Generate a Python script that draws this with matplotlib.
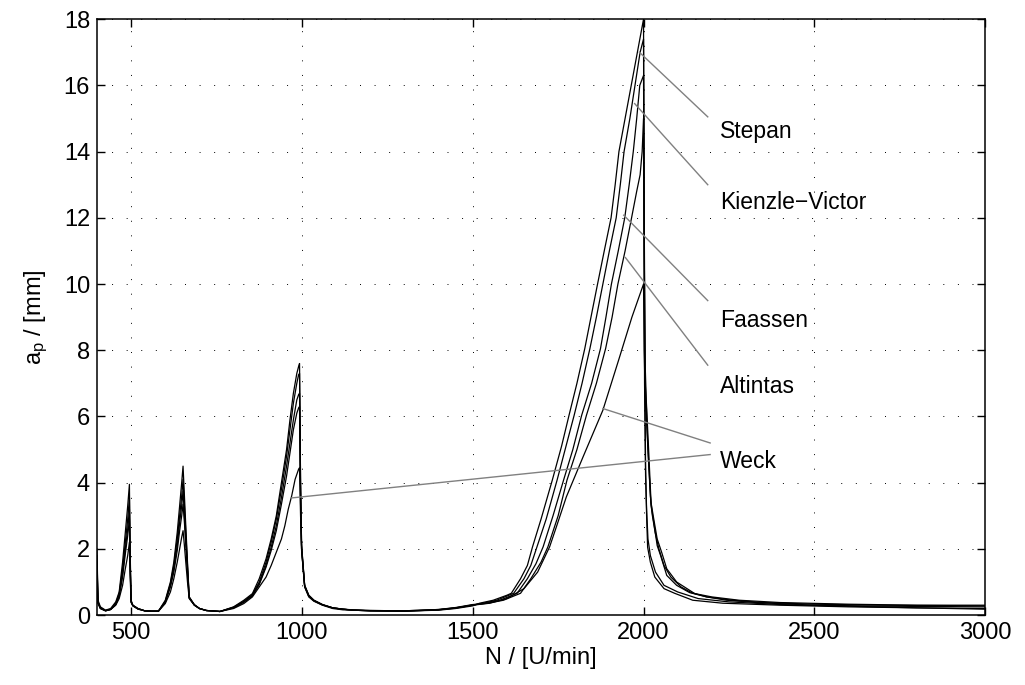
import numpy as np
import matplotlib
matplotlib.use('Agg')
import matplotlib.pyplot as plt

plt.rcParams['font.family'] = ['Liberation Sans', 'DejaVu Sans']
plt.rcParams['mathtext.fontset'] = 'custom'
plt.rcParams['mathtext.rm'] = 'Liberation Sans'
plt.rcParams['mathtext.it'] = 'Liberation Sans'

# --- data (N in U/min, a_p in mm) ---
stepan_n = [400, 403, 410, 425, 440, 455, 465, 475, 483, 490, 495, 497, 500, 505, 520, 540, 560,
            580, 600, 615, 625, 635, 642, 648, 652, 656, 660, 665, 670, 685, 700, 720,
            760, 800, 830, 855, 875, 895, 910, 925, 940, 955, 965, 975, 985, 990, 993, 996, 999, 1008, 1020, 1035, 1060, 1090, 1120,
            1150, 1200, 1300, 1400, 1450, 1500,
            1520, 1560, 1600, 1613, 1640, 1660, 1675, 1700, 1733, 1760, 1782, 1805, 1828, 1850, 1866, 1885, 1905, 1917, 1928, 1946, 1964, 1982, 2000,
            2003, 2006, 2009, 2012, 2020, 2033, 2060, 2091, 2144, 2232, 2400, 2600, 2800, 3000]
stepan_a = [2.0, 0.45, 0.25, 0.15, 0.2, 0.4, 0.7, 1.6, 2.5, 3.3, 3.95, 2.0, 0.45, 0.3, 0.2, 0.13, 0.12,
            0.12, 0.45, 1.0, 1.6, 2.5, 3.3, 4.0, 4.5, 3.6, 2.7, 1.6, 0.55, 0.3, 0.2, 0.14,
            0.11, 0.25, 0.45, 0.65, 1.1, 1.7, 2.3, 3.0, 4.0, 5.0, 5.9, 6.7, 7.3, 7.5, 7.6, 4.0, 2.1, 0.9, 0.6, 0.45, 0.32, 0.22, 0.18,
            0.15, 0.13, 0.12, 0.15, 0.2, 0.28,
            0.36, 0.45, 0.6, 0.66, 1.1, 1.5, 2.06, 2.9, 4.08, 5.1, 6.04, 7.0, 8.05, 9.2, 10.03, 11.0, 12.0, 13.0, 14.0, 15.0, 16.0, 17.0, 18.0,
            8.0, 4.5, 3.0, 2.05, 1.6, 1.15, 0.8, 0.66, 0.45, 0.36, 0.3, 0.25, 0.22, 0.2]

kienzle_n = [400, 403, 410, 425, 440, 455, 465, 475, 483, 490, 495, 497, 500, 505, 520, 540, 560,
             580, 600, 615, 625, 635, 642, 648, 652, 656, 660, 665, 670, 685, 700, 720,
             760, 800, 830, 855, 875, 895, 910, 925, 940, 955, 965, 975, 985, 990, 993, 996, 999, 1008, 1020, 1035, 1060, 1090, 1120,
             1150, 1200, 1300, 1400, 1450, 1500,
             1530, 1570, 1620, 1650, 1670, 1688, 1715, 1747, 1773, 1797, 1820, 1843, 1862, 1881, 1900, 1920, 1932, 1943, 1960, 1975, 1990, 2000,
             2003, 2006, 2009, 2013, 2020, 2035, 2060, 2100, 2160, 2250, 2400, 2600, 2800, 3000]
kienzle_a = [1.8, 0.4, 0.22, 0.14, 0.18, 0.35, 0.65, 1.4, 2.2, 2.9, 3.55, 1.8, 0.42, 0.3, 0.2, 0.13, 0.12,
             0.12, 0.42, 0.95, 1.5, 2.3, 3.0, 3.6, 4.1, 3.3, 2.5, 1.5, 0.55, 0.32, 0.2, 0.14,
             0.11, 0.24, 0.42, 0.62, 1.0, 1.6, 2.2, 2.9, 3.8, 4.8, 5.6, 6.4, 7.0, 7.25, 7.3, 4.0, 2.1, 0.9, 0.6, 0.45, 0.32, 0.22, 0.18,
             0.15, 0.13, 0.12, 0.16, 0.21, 0.3,
             0.36, 0.45, 0.66, 1.1, 1.5, 2.06, 2.9, 4.08, 5.1, 6.04, 7.0, 8.05, 9.0, 10.0, 11.0, 12.0, 13.0, 14.0, 15.0, 16.0, 17.0, 17.4,
             7.0, 4.2, 3.2, 2.3, 1.8, 1.3, 0.9, 0.7, 0.5, 0.4, 0.32, 0.27, 0.22, 0.18]

faassen_n = [400, 403, 410, 425, 440, 455, 465, 475, 483, 490, 495, 497, 500, 505, 520, 540, 560,
             580, 600, 615, 625, 635, 642, 648, 652, 656, 660, 665, 670, 685, 700, 720,
             760, 800, 830, 855, 875, 895, 910, 925, 940, 955, 965, 975, 985, 990, 993, 996, 999, 1008, 1020, 1035, 1060, 1090, 1120,
             1150, 1200, 1300, 1400, 1450, 1500,
             1540, 1580, 1630, 1660, 1685, 1706, 1735, 1766, 1793, 1819, 1848, 1874, 1890, 1906, 1926, 1945, 1958, 1970, 1980, 1989, 2000,
             2002, 2005, 2008, 2013, 2020, 2026, 2034, 2045, 2060, 2080, 2110, 2140, 2185, 2260, 2350, 2500, 2700, 3000]
faassen_a = [1.6, 0.38, 0.21, 0.13, 0.17, 0.33, 0.6, 1.25, 2.0, 2.6, 3.2, 1.6, 0.4, 0.29, 0.19, 0.13, 0.12,
             0.12, 0.4, 0.9, 1.4, 2.1, 2.8, 3.3, 3.75, 3.0, 2.3, 1.4, 0.52, 0.31, 0.2, 0.14,
             0.11, 0.23, 0.4, 0.6, 0.95, 1.5, 2.05, 2.7, 3.55, 4.5, 5.2, 5.9, 6.5, 6.65, 6.7, 3.6, 2.0, 0.88, 0.58, 0.44, 0.31, 0.22, 0.18,
             0.15, 0.14, 0.13, 0.17, 0.22, 0.31,
             0.36, 0.45, 0.66, 1.1, 1.55, 2.06, 3.0, 4.08, 5.0, 6.04, 7.0, 8.05, 9.0, 10.0, 11.0, 12.0, 13.0, 14.0, 15.0, 16.0, 16.3,
             12.0, 7.0, 6.4, 5.0, 3.6, 3.0, 2.5, 2.0, 1.5, 1.15, 0.85, 0.68, 0.55, 0.45, 0.38, 0.33, 0.3, 0.28]

altintas_n = [400, 403, 410, 425, 440, 455, 465, 475, 483, 490, 495, 497, 500, 505, 520, 540, 560,
              580, 600, 615, 625, 635, 642, 648, 652, 656, 660, 665, 670, 685, 700, 720,
              760, 800, 830, 855, 875, 895, 910, 925, 940, 955, 965, 975, 985, 990, 993, 996, 999, 1008, 1020, 1035, 1060, 1090, 1120,
              1150, 1200, 1300, 1400, 1450, 1500,
              1545, 1590, 1640, 1670, 1700, 1720, 1750, 1776, 1805, 1833, 1862, 1889, 1908, 1925, 1946, 1965, 1980, 1990, 1996, 2000,
              2002, 2005, 2008, 2014, 2022, 2030, 2040, 2053, 2068, 2097, 2150, 2200, 2280, 2400, 2600, 2800, 3000]
altintas_a = [1.5, 0.37, 0.2, 0.13, 0.17, 0.32, 0.57, 1.15, 1.85, 2.4, 2.9, 1.5, 0.4, 0.28, 0.19, 0.13, 0.12,
              0.12, 0.38, 0.85, 1.3, 1.95, 2.55, 3.0, 3.35, 2.8, 2.1, 1.3, 0.52, 0.31, 0.2, 0.14,
              0.11, 0.22, 0.39, 0.58, 0.92, 1.45, 1.95, 2.55, 3.35, 4.2, 4.9, 5.6, 6.1, 6.25, 6.3, 3.4, 1.95, 0.86, 0.57, 0.43, 0.31, 0.22, 0.18,
              0.16, 0.14, 0.13, 0.17, 0.23, 0.32,
              0.36, 0.45, 0.66, 1.1, 1.6, 2.06, 3.0, 4.08, 5.0, 6.04, 7.0, 8.05, 9.0, 10.0, 11.0, 12.0, 12.8, 13.3, 14.0, 15.0,
              11.0, 7.5, 6.5, 5.2, 3.4, 2.9, 2.3, 1.9, 1.4, 1.0, 0.65, 0.55, 0.45, 0.38, 0.33, 0.3, 0.3]

weck_n = [400, 403, 410, 425, 440, 455, 465, 475, 483, 490, 495, 497, 500, 505, 520, 540, 560,
          580, 600, 615, 625, 635, 642, 648, 652, 656, 660, 665, 670, 685, 700, 720,
          760, 800, 830, 855, 875, 895, 910, 925, 940, 950, 960, 970, 980, 990, 993, 996, 999, 1008, 1020, 1035, 1060, 1090, 1120,
          1150, 1200, 1300, 1400, 1450, 1500,
          1550, 1600, 1650, 1690, 1725, 1745, 1774, 1823, 1881, 1927, 1966, 2000,
          2002, 2005, 2008, 2014, 2022, 2030, 2040, 2050, 2068, 2097, 2135, 2185, 2243, 2330, 2500, 2700, 3000]
weck_a = [1.2, 0.35, 0.2, 0.13, 0.17, 0.3, 0.5, 0.9, 1.4, 1.8, 2.2, 1.2, 0.38, 0.28, 0.18, 0.13, 0.12,
          0.12, 0.35, 0.7, 1.1, 1.6, 2.0, 2.35, 2.55, 2.1, 1.6, 1.0, 0.5, 0.3, 0.2, 0.14,
          0.11, 0.2, 0.35, 0.55, 0.85, 1.15, 1.5, 1.9, 2.3, 2.7, 3.2, 3.6, 4.1, 4.4, 4.45, 3.0, 2.0, 0.85, 0.55, 0.42, 0.3, 0.2, 0.16,
          0.15, 0.13, 0.12, 0.16, 0.22, 0.3,
          0.36, 0.5, 0.8, 1.3, 2.06, 2.67, 3.57, 4.78, 6.19, 7.7, 9.0, 10.0,
          8.0, 6.5, 6.0, 4.8, 3.3, 2.8, 2.1, 1.8, 1.2, 0.9, 0.68, 0.55, 0.45, 0.38, 0.3, 0.27, 0.25]

# label texts, text anchor, and the curve points the grey leader lines go to
labels = ['Stepan', 'Kienzle\u2212Victor', 'Faassen', 'Altintas', 'Weck']
label_pos = [(2223, 14.6), (2223, 12.45), (2223, 8.9), (2223, 6.9), (2223, 4.65)]
leaders = [[((2188, 15.05), (1988, 17.0))],
           [((2188, 13.0), (1974, 15.45))],
           [((2188, 9.5), (1942, 12.08))],
           [((2188, 7.55), (1947, 10.8))],
           [((2195, 5.2), (1881, 6.24)), ((2195, 4.85), (970, 3.54))]]


def main():
    fig = plt.figure(figsize=(10.25, 6.85), dpi=100)
    ax = fig.add_axes([0.0946, 0.102, 0.8665, 0.870])

    for n, a in [(stepan_n, stepan_a), (kienzle_n, kienzle_a), (faassen_n, faassen_a),
                 (altintas_n, altintas_a), (weck_n, weck_a)]:
        ax.plot(n, a, color='k', lw=0.9)

    for lab, pos, segs in zip(labels, label_pos, leaders):
        for p0, p1 in segs:
            ax.plot([p0[0], p1[0]], [p0[1], p1[1]], color='0.5', lw=1.0)
        ax.text(pos[0], pos[1], lab, fontsize=16.5, va='center', ha='left')

    ax.set_xlim(400, 3000)
    ax.set_ylim(0, 18)
    ax.set_xticks(np.arange(500, 3001, 500))
    ax.set_yticks(np.arange(0, 19, 2))
    ax.grid(True, color='k', linestyle=(0, (1, 14)), linewidth=0.7)
    ax.tick_params(direction='in', top=True, right=True, length=6, width=1, labelsize=17, pad=5)
    for s in ax.spines.values():
        s.set_linewidth(1.1)

    ax.set_xlabel('N / [U/min]', fontsize=17, labelpad=2)
    ax.set_ylabel(r'a$_\mathrm{p}$ / [mm]', fontsize=17, labelpad=10)

    fig.savefig('out.png', dpi=100)


if __name__ == "__main__":
    main()
